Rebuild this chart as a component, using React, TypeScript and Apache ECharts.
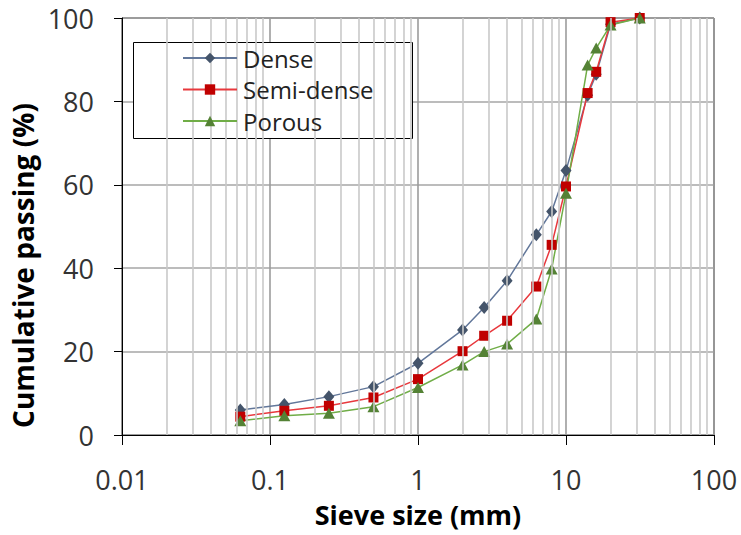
import React, { useEffect, useRef } from "react";
import * as echarts from "echarts";

const sieveSizes = [0.063, 0.125, 0.25, 0.5, 1, 2, 2.8, 4, 6.3, 8, 10, 14, 16, 20, 31.5];
const dense = [6.0, 7.3, 9.2, 11.6, 17.2, 25.2, 30.6, 37.0, 48.0, 53.6, 63.4, 81.5, 86.5, 98.5, 100];
const semiDense = [4.4, 5.8, 7.0, 9.0, 13.4, 20.1, 23.8, 27.4, 35.6, 45.6, 59.6, 82.0, 87.1, 99.0, 100];
const porous = [3.4, 4.6, 5.2, 6.8, 11.4, 16.8, 20.0, 21.8, 27.8, 39.8, 58.0, 88.7, 92.8, 98.3, 100];

const decades = [0.01, 0.1, 1, 10];
const minorMultipliers = [2, 3, 4, 5, 6, 7, 8, 9];

const FONT = "Open Sans";

export default function App() {
  const ref = useRef<HTMLDivElement>(null);
  useEffect(() => {
    document.body.style.margin = "0";
    if (!ref.current) return;
    const chart = echarts.init(ref.current, undefined, { renderer: "svg" });
    const pairs = (ys: number[]) => sieveSizes.map((x, i) => [x, ys[i]]);
    const minorLines: any[] = [];
    decades.forEach((d) =>
      minorMultipliers.forEach((m) => minorLines.push({ xAxis: +(d * m).toPrecision(3) }))
    );
    chart.setOption({
      animation: false,
      backgroundColor: "#fff",
      textStyle: { fontFamily: FONT },
      grid: {
        left: 122,
        right: 27,
        top: 18,
        bottom: 100,
        show: true,
        borderColor: "#000",
        borderWidth: 1,
        backgroundColor: "transparent",
        containLabel: false,
        outerBoundsMode: "none",
      },
      xAxis: {
        type: "log",
        logBase: 10,
        min: 0.01,
        max: 100,
        name: "Sieve size (mm)",
        nameLocation: "middle",
        nameGap: 66,
        nameTextStyle: {
          fontFamily: FONT,
          fontSize: 27,
          lineHeight: 27,
          fontWeight: "bold",
          color: "#000",
        },
        axisLine: { show: true, lineStyle: { color: "#000", width: 1 } },
        axisTick: { show: true, length: 10, lineStyle: { color: "#000" } },
        axisLabel: {
          margin: 31,
          fontFamily: FONT,
          fontSize: 27,
          color: "#333",
          formatter: (v: number) => String(+v.toPrecision(3)),
        },
        splitLine: { show: true, lineStyle: { color: "#9c9c9c", width: 1.6 } },
        minorTick: { show: false },
        minorSplitLine: { show: false },
      },
      yAxis: {
        type: "value",
        min: 0,
        max: 100,
        interval: 20,
        name: "Cumulative passing (%)",
        nameLocation: "middle",
        nameGap: 77,
        nameTextStyle: {
          fontFamily: FONT,
          fontSize: 28,
          fontWeight: "bold",
          color: "#000",
          padding: [0, 78, 0, 0],
        },
        axisLine: { show: true, lineStyle: { color: "#000", width: 1 } },
        axisTick: { show: true, length: 8, lineStyle: { color: "#000" } },
        axisLabel: { margin: 28, fontFamily: FONT, fontSize: 27, color: "#333" },
        splitLine: { show: true, lineStyle: { color: "#a6a6a6", width: 1.6 } },
      },
      legend: {
        orient: "vertical",
        left: 182,
        top: 46,
        padding: 0,
        itemGap: 7.5,
        itemWidth: 54,
        itemHeight: 13,
        textStyle: { fontFamily: FONT, fontSize: 24, color: "#222", lineHeight: 24, padding: [0, 0, 0, 1] },
        data: ["Dense", "Semi-dense", "Porous"],
        z: 10,
      },
      graphic: [
        {
          type: "rect",
          z: 5,
          shape: { x: 133.5, y: 42.5, width: 279, height: 96 },
          style: { fill: "#fff", stroke: "#000", lineWidth: 1 },
          silent: true,
        },
      ],
      series: [
        {
          name: "minor",
          type: "line",
          data: [],
          silent: true,
          z: 1,
          markLine: {
            silent: true,
            symbol: ["none", "none"],
            label: { show: false },
            lineStyle: { color: "#c9c9c9", width: 1.6, type: "solid" },
            emphasis: { disabled: true },
            data: minorLines,
          },
        },
        {
          name: "Dense",
          type: "line",
          data: pairs(dense),
          symbol: "diamond",
          symbolSize: [11, 13],
          lineStyle: { color: "#62779a", width: 1.5 },
          itemStyle: { color: "#44546a" },
          z: 3,
        },
        {
          name: "Semi-dense",
          type: "line",
          data: pairs(semiDense),
          symbol: "rect",
          symbolSize: 10,
          lineStyle: { color: "#e8383d", width: 1.5 },
          itemStyle: { color: "#c00000" },
          z: 3,
        },
        {
          name: "Porous",
          type: "line",
          data: pairs(porous),
          symbol: "triangle",
          symbolSize: [12, 11],
          lineStyle: { color: "#70ad47", width: 1.5 },
          itemStyle: { color: "#548235" },
          z: 3,
        },
      ],
    });
    return () => chart.dispose();
  }, []);
  return <div ref={ref} style={{ width: 741, height: 535 }} />;
}
